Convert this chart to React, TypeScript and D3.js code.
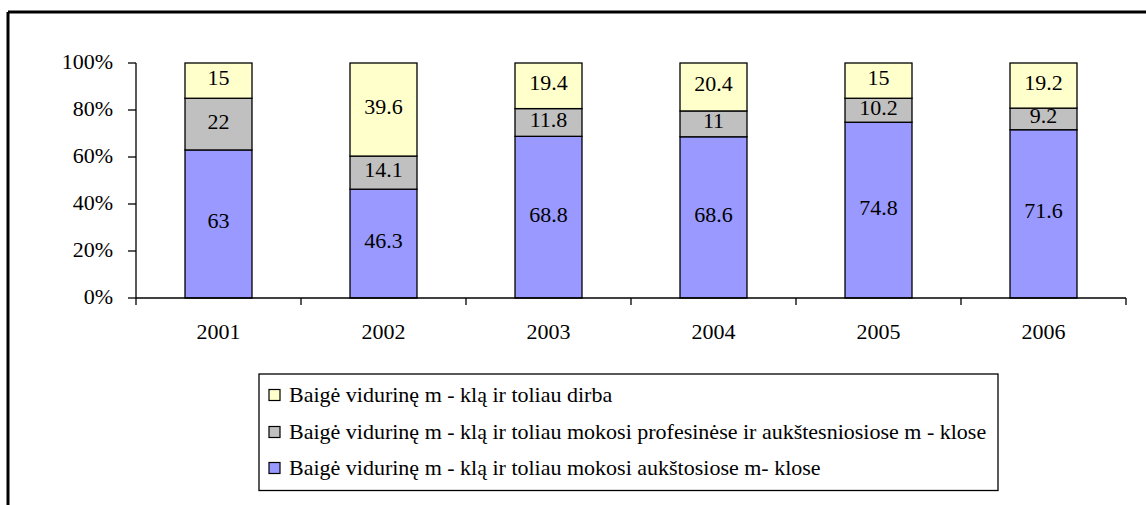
import React from "react";
import * as d3 from "d3";

const years = ["2001", "2002", "2003", "2004", "2005", "2006"];
const higherSchools = [63, 46.3, 68.8, 68.6, 74.8, 71.6];
const vocational = [22, 14.1, 11.8, 11, 10.2, 9.2];
const working = [15, 39.6, 19.4, 20.4, 15, 19.2];
const yTicks = [0, 20, 40, 60, 80, 100];

const seriesNames = [
  "Baigė vidurinę m - klą ir toliau dirba",
  "Baigė vidurinę m - klą ir toliau mokosi profesinėse ir aukštesniosiose m - klose",
  "Baigė vidurinę m - klą ir toliau mokosi aukštosiose m- klose",
];
const colors = { high: "#9999FF", voc: "#C0C0C0", work: "#FFFFCC" };

const FONT = "Liberation Serif, Times New Roman, Times, DejaVu Serif, serif";
const tStyle: React.CSSProperties = { fontFamily: FONT, fontSize: "22px" };

export default function App() {
  const W = 1146, H = 505;
  const x = d3.scaleBand<string>().domain(years).range([136, 1126]).paddingInner(0.594).paddingOuter(0.297);
  const y = d3.scaleLinear().domain([0, 100]).range([298, 63]);

  const stackData = years.map((yr, i) => ({ yr, high: higherSchools[i], voc: vocational[i], work: working[i] }));
  const stack = d3.stack<any>().keys(["high", "voc", "work"])(stackData);
  const fillFor: Record<string, string> = colors;

  const band = d3.scaleBand<string>().domain(years).range([136, 1126]);

  const legendItems = [
    { name: seriesNames[0], color: colors.work },
    { name: seriesNames[1], color: colors.voc },
    { name: seriesNames[2], color: colors.high },
  ];
  const legendY = [395, 432, 468];

  return (
    <svg width={W} height={H} style={{ position: "absolute", left: 0, top: 0, fontFamily: FONT }}>
      <rect x={0} y={0} width={W} height={H} fill="#fff" />
      <line x1={8} y1={12} x2={W} y2={12} stroke="#000" strokeWidth={3} />
      <line x1={8} y1={12} x2={8} y2={H} stroke="#000" strokeWidth={3} />

      {stack.map((layer) =>
        layer.map((d, i) => {
          const yr = years[i];
          const x0 = x(yr)!;
          const top = y(d[1]);
          const bot = y(d[0]);
          const val = d[1] - d[0];
          return (
            <g key={layer.key + yr}>
              <rect x={x0} y={top} width={x.bandwidth()} height={bot - top} fill={fillFor[layer.key]} stroke="#000" strokeWidth={1.3} />
              <text x={x0 + x.bandwidth() / 2} y={(top + bot) / 2} dy="0.2em" textAnchor="middle" style={tStyle} fill="#000">
                {String(Math.round(val * 10) / 10)}
              </text>
            </g>
          );
        })
      )}

      {/* Y axis */}
      <line x1={136} y1={y(100)} x2={136} y2={y(0)} stroke="#000" strokeWidth={1.3} />
      {yTicks.map((t) => (
        <g key={t}>
          <line x1={128} y1={y(t)} x2={136} y2={y(t)} stroke="#000" strokeWidth={1.3} />
          <text x={113} y={y(t)} dy="0.25em" textAnchor="end" style={tStyle} fill="#000">{t}%</text>
        </g>
      ))}

      {/* X axis */}
      <line x1={136} y1={298} x2={1126} y2={298} stroke="#000" strokeWidth={1.3} />
      {[...years.map((yr) => band(yr)!), 1126].map((px, i) => (
        <line key={i} x1={px} y1={298} x2={px} y2={305} stroke="#000" strokeWidth={1.3} />
      ))}
      {years.map((yr) => (
        <text key={yr} x={band(yr)! + band.bandwidth() / 2} y={339} textAnchor="middle" style={tStyle} fill="#000">{yr}</text>
      ))}

      {/* Legend */}
      <rect x={259} y={374} width={739} height={116.5} fill="#fff" stroke="#000" strokeWidth={1.3} />
      {legendItems.map((it, i) => (
        <g key={i}>
          <rect x={269} y={legendY[i] - 5.5} width={11} height={11} fill={it.color} stroke="#000" strokeWidth={1.2} />
          <text x={289} y={legendY[i]} dy="0.33em" style={tStyle} fill="#000">{it.name}</text>
        </g>
      ))}
    </svg>
  );
}
